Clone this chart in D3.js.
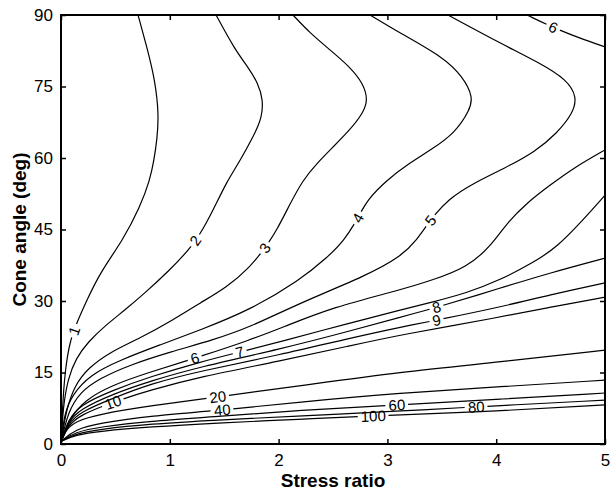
<!DOCTYPE html>
<html lang="en">
<head>
<meta charset="utf-8">
<title>Cone angle vs stress ratio</title>
<script src="https://cdn.jsdelivr.net/npm/d3@7"></script>
<style>
  body { margin: 0; background: #fff; }
  text { font-family: "Liberation Sans", Arial, Helvetica, sans-serif; }
</style>
</head>
<body>
<script>

var w = 610;
var h = 492;
var margin = {top: 15, right: 5, bottom: 48, left: 61};

var xTicks = [0, 1, 2, 3, 4, 5];
var yTicks = [0, 15, 30, 45, 60, 75, 90];

// contour lines, [stress ratio, cone angle]
var c1 = [[0.708,90],[0.79,83.2],[0.864,76.4],[0.90,69.0],[0.882,63.8],[0.855,59.6],[0.818,55.4],[0.726,49.7],[0.570,42.8],[0.358,35.9],[0.239,30.2],[0.156,26.0],[0.083,21.8],[0.037,15.5],[0.012,7.1],[0.004,0.6]];
var c2 = [[1.425,90],[1.599,82.7],[1.719,79.1],[1.811,75.7],[1.857,72.2],[1.847,68.6],[1.783,65.2],[1.700,61.7],[1.610,58.1],[1.520,54.8],[1.420,50.1],[1.250,42.4],[0.974,35.9],[0.772,31.7],[0.588,28.1],[0.404,24.8],[0.248,21.4],[0.138,18.0],[0.064,13.8],[0.018,7.6],[0.004,0.6]];
var c3 = [[2.132,90],[2.289,86.2],[2.472,82.7],[2.656,79.1],[2.776,75.7],[2.822,72.2],[2.776,69.4],[2.656,65.9],[2.500,62.3],[2.353,58.9],[2.224,55.4],[2.110,50.6],[1.985,44.9],[1.875,41.1],[1.737,37.1],[1.526,32.9],[1.278,29.6],[1.029,26.0],[0.726,22.2],[0.450,19.3],[0.248,15.9],[0.129,12.4],[0.046,7.1],[0.004,0.6]];
var c4 = [[2.840,90],[3.116,86.2],[3.511,81.2],[3.695,77.0],[3.787,72.8],[3.759,70.1],[3.620,65.2],[3.400,61.7],[3.200,58.9],[2.996,55.4],[2.813,51.2],[2.730,47.4],[2.600,42.6],[2.450,39.2],[2.197,34.4],[1.737,28.1],[1.278,23.9],[0.910,20.8],[0.542,17.6],[0.267,14.5],[0.101,10.3],[0.028,6.1],[0.004,0.6]];
var c5 = [[3.557,90],[4.035,84.1],[4.403,79.9],[4.651,76.4],[4.743,72.8],[4.706,69.4],[4.559,65.2],[4.357,61.3],[4.081,57.9],[3.780,54.6],[3.560,51.4],[3.392,47.0],[3.272,42.8],[3.116,39.2],[2.813,35.4],[2.197,29.6],[1.737,24.5],[1.397,21.8],[1.002,19.3],[0.634,16.6],[0.358,13.8],[0.175,10.9],[0.064,6.7],[0.004,0.6]];
var c6a = [[4.283,90],[4.52,87.4],[4.76,85.2],[5.0,83.3]];
var c6b = [[5,61.7],[4.724,58.1],[4.494,54.3],[4.283,50.6],[4.099,46.4],[3.943,41.3],[3.732,37.1],[3.419,34.4],[3.116,32.3],[2.500,28.7],[2.040,24.5],[1.737,21.8],[1.232,18.0],[0.818,15.1],[0.450,12.2],[0.221,9.2],[0.083,5.5],[0.004,0.6]];
var c7 = [[5,52.2],[4.798,47.0],[4.559,41.3],[4.338,38.0],[4.035,34.4],[3.732,31.7],[3.419,29.8],[3.116,28.1],[2.656,25.4],[2.040,21.6],[1.645,19.3],[1.278,17.2],[0.818,14.1],[0.478,11.3],[0.175,8.2],[0.064,5.0],[0.004,0.6]];
var c8 = [[5,39.0],[4.494,35.9],[4.035,32.7],[3.465,28.7],[3.116,26.6],[2.656,23.7],[2.013,19.9],[1.278,16.2],[0.818,13.2],[0.478,10.5],[0.175,7.3],[0.064,4.6],[0.004,0.6]];
var c9 = [[5,33.8],[4.494,31.3],[4.035,28.7],[3.456,26.0],[3.116,24.5],[2.656,22.2],[2.013,18.7],[1.278,15.3],[0.818,12.6],[0.478,9.6],[0.175,6.7],[0.064,4.2],[0.004,0.6]];
var c10 = [[5,30.8],[4.494,28.7],[4.035,26.6],[3.116,22.9],[2.656,20.6],[2.013,17.4],[1.278,14.1],[0.818,11.3],[0.478,8.8],[0.175,6.1],[0.064,3.8],[0.004,0.6]];
var c20 = [[5,19.7],[4.035,17.2],[3.116,15.1],[2.197,12.2],[1.443,9.9],[0.818,8.0],[0.358,6.3],[0.129,4.8],[0.028,2.5],[0.004,0.6]];
var c40 = [[5,13.4],[4.035,12.0],[3.116,10.7],[2.197,8.8],[1.480,7.1],[0.818,5.9],[0.358,4.4],[0.129,3.1],[0.004,0.6]];
var c60 = [[5,10.7],[4.035,9.4],[3.088,8.2],[2.197,7.1],[1.415,5.7],[0.818,4.8],[0.358,3.6],[0.129,2.5],[0.004,0.6]];
var c80 = [[5,9.2],[3.814,7.8],[3.116,6.9],[2.197,5.9],[1.415,5.0],[0.818,4.2],[0.358,3.1],[0.129,2.1],[0.004,0.6]];
var c100 = [[5,8.2],[4.035,6.9],[2.868,5.9],[2.197,5.2],[1.415,4.4],[0.818,3.6],[0.358,2.7],[0.129,1.9],[0.004,0.6]];

var levels = [1, 2, 3, 4, 5, 6, 6, 7, 8, 9, 10, 20, 40, 60, 80, 100];
var curves = [c1, c2, c3, c4, c5, c6a, c6b, c7, c8, c9, c10, c20, c40, c60, c80, c100];
// where each line carries its level label
var labelAt = [[0.110,23.9],[1.25,42.4],[1.875,41.1],[2.730,47.4],[3.392,47.0],[4.522,87.3],[1.232,18.0],[1.645,19.3],[3.465,27.5],[3.456,25.6],[0.478,8.8],[1.443,9.9],[1.480,7.1],[3.088,8.2],[3.814,7.8],[2.868,5.9]];

var xScale = d3.scaleLinear().domain([0, 5]).range([margin.left, w - margin.right]);
var yScale = d3.scaleLinear().domain([0, 90]).range([h - margin.bottom, margin.top]);

var svg = d3.select("body").append("svg")
            .attr("width", w)
            .attr("height", h);

svg.append("defs").append("clipPath").attr("id", "plot")
   .append("rect")
   .attr("x", margin.left).attr("y", margin.top)
   .attr("width", w - margin.left - margin.right)
   .attr("height", h - margin.top - margin.bottom);

var line = d3.line()
             .x(function(d) { return xScale(d[0]); })
             .y(function(d) { return yScale(d[1]); })
             .curve(d3.curveBasis);

var lineG = svg.append("g").attr("clip-path", "url(#plot)");

var paths = curves.map(function(c) {
    return lineG.append("path")
                .datum(c)
                .attr("d", line)
                .attr("fill", "none")
                .attr("stroke", "#000")
                .attr("stroke-width", 1.2)
                .node();
});

// inline labels, the line is broken where the text sits
labelAt.forEach(function(lb, i) {
    var node = paths[i];
    var L = node.getTotalLength();
    var tx = xScale(lb[0]), ty = yScale(lb[1]);
    var best = 0, bd = Infinity;
    for (var l = 0; l <= L; l += 0.5) {
        var pt = node.getPointAtLength(l);
        var d = (pt.x - tx) * (pt.x - tx) + (pt.y - ty) * (pt.y - ty);
        if (d < bd) { bd = d; best = l; }
    }
    var p0 = node.getPointAtLength(Math.max(0, best - 4));
    var p1 = node.getPointAtLength(Math.min(L, best + 4));
    var ang = Math.atan2(p1.y - p0.y, p1.x - p0.x) * 180 / Math.PI;
    if (ang > 90) ang -= 180;
    if (ang < -90) ang += 180;
    var pc = node.getPointAtLength(best);
    var t = svg.append("text")
               .attr("transform", "translate(" + pc.x + "," + pc.y + ") rotate(" + ang + ")")
               .attr("text-anchor", "middle")
               .attr("dy", "0.36em")
               .attr("font-size", "15px")
               .attr("fill", "#000")
               .text(levels[i]);
    var gap = t.node().getComputedTextLength() + 6;
    d3.select(node).attr("stroke-dasharray", Math.max(0, best - gap / 2) + " " + gap + " " + L);
});

// axes, ticks inside on all four sides
var axBottom = svg.append("g")
   .attr("transform", "translate(0," + (h - margin.bottom) + ")")
   .call(d3.axisBottom(xScale).tickValues(xTicks).tickSize(-5).tickPadding(10).tickFormat(d3.format("d")));
var axLeft = svg.append("g")
   .attr("transform", "translate(" + margin.left + ",0)")
   .call(d3.axisLeft(yScale).tickValues(yTicks).tickSize(-5).tickPadding(8).tickFormat(d3.format("d")));
var axTop = svg.append("g")
   .attr("transform", "translate(0," + margin.top + ")")
   .call(d3.axisTop(xScale).tickValues(xTicks).tickSize(-5).tickFormat(""));
var axRight = svg.append("g")
   .attr("transform", "translate(" + (w - margin.right) + ",0)")
   .call(d3.axisRight(yScale).tickValues(yTicks).tickSize(-5).tickFormat(""));

[axBottom, axLeft, axTop, axRight].forEach(function(a) {
    a.select(".domain").remove();
    a.selectAll(".tick line").attr("stroke", "#000").attr("stroke-width", 1.5);
    a.selectAll(".tick text")
     .attr("font-family", "'Liberation Sans', Arial, sans-serif")
     .attr("font-size", "17px")
     .attr("fill", "#000");
});

svg.append("rect")
   .attr("x", margin.left).attr("y", margin.top)
   .attr("width", w - margin.left - margin.right)
   .attr("height", h - margin.top - margin.bottom)
   .attr("fill", "none")
   .attr("stroke", "#000")
   .attr("stroke-width", 2);

svg.append("text")
   .attr("x", (margin.left + w - margin.right) / 2)
   .attr("y", 487)
   .attr("text-anchor", "middle")
   .attr("font-size", "19px")
   .attr("font-weight", "bold")
   .text("Stress ratio");

svg.append("text")
   .attr("transform", "translate(26," + ((margin.top + h - margin.bottom) / 2) + ") rotate(-90)")
   .attr("text-anchor", "middle")
   .attr("font-size", "19px")
   .attr("font-weight", "bold")
   .text("Cone angle (deg)");

</script>
</body>
</html>
